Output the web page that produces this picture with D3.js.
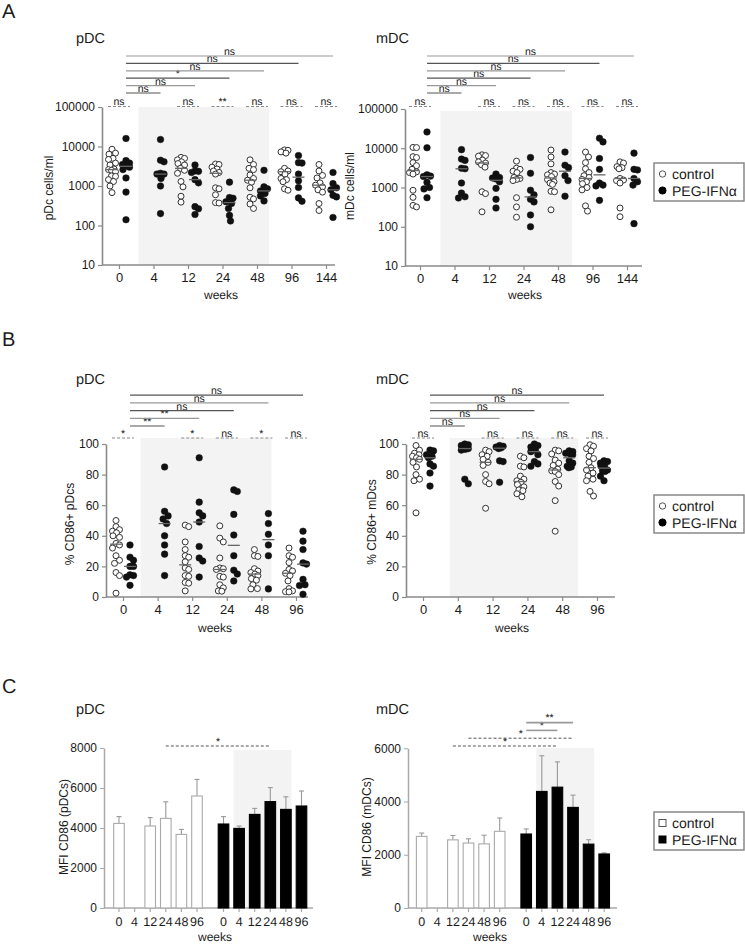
<!DOCTYPE html>
<html><head><meta charset="utf-8">
<script src="https://cdn.jsdelivr.net/npm/d3@7"></script>
<style>
body{margin:0;background:#fff}
svg{display:block}
text{font-family:"Liberation Sans",Arial,Helvetica,sans-serif;fill:#1a1a1a}
</style>
</head><body>
<svg id="c" width="745" height="944"></svg>
<script>
// ---------------- DATA ----------------
const weeksA = ["0","4","12","24","48","96","144"];
const weeksB = ["0","4","12","24","48","96"];
const weeksC = ["0","4","12","24","48","96"];

// Panel A – pDC cells/ml
const aPdcCtrl = [
  [8500,6800,6400,5000,4700,3800,3400,2700,2600,2500,2300,1800,1750,1450,1300,1000,680],
  [],
  [5300,5000,4600,4100,3700,3400,2800,2500,2100,1300,950,550,390],
  [3600,3500,3000,2700,2400,2200,2000,900,850,600,380,370],
  [4600,3500,2800,2600,1900,1550,1400,1250,900,520,470,350,270],
  [8200,8000,7300,6800,2800,2400,2300,2000,1550,1450,1280,850,780],
  [3500,2400,1850,1600,1200,1050,950,800,700,360,240]
];
const aPdcPeg = [
  [16000,4400,3800,3500,3300,3000,2600,1600,700,140],
  [15000,4500,4100,2100,2000,2000,1550,1000,200],
  [3400,2400,2350,2200,1450,1200,300,265,190],
  [1250,510,490,400,360,270,180,130],
  [2500,950,850,750,650,560,420],
  [5900,3900,3800,2000,1350,920,500,410],
  [2200,1150,900,800,580,530,160]
];
const aPdcGroupSig = ["ns",null,"ns","**","ns","ns","ns"];
const aPdcTrendSig = ["ns","ns","*","ns","ns","ns"];

// Panel A – mDC cells/ml
const aMdcCtrl = [
  [10500,10400,6100,5800,4300,3600,2900,2500,2400,2200,850,560,350,320],
  [],
  [6800,6500,6300,5000,4500,4200,3800,3300,780,700,240],
  [4700,3100,2900,2600,2400,1800,1700,1600,1500,550,320,175],
  [9000,6000,4000,2400,2200,2100,1900,1600,1400,1300,1200,800,780,270],
  [8000,6000,4300,3000,2400,2000,1800,1600,1400,1250,1000,870,340,250],
  [4500,4200,3400,3200,3000,1700,1550,1500,1300,300,180]
];
const aMdcPeg = [
  [26000,10300,2100,1950,1900,1350,1000,920,550],
  [9200,5300,4900,3100,3000,1300,720,580,540],
  [2200,1800,1750,1650,1400,950,500,300],
  [5800,2300,850,650,500,430,200,100],
  [8000,3700,3200,2000,1500,600],
  [18000,14500,5500,2900,1300,1150,1100,470],
  [7500,2900,2800,1700,1400,1150,120]
];
const aMdcGroupSig = ["ns",null,"ns","ns","ns","ns","ns"];
const aMdcTrendSig = ["ns","ns","ns","ns","ns","ns"];

// Panel B – % CD86+ pDCs
const bPdcCtrl = [
  [50,46,44,43,42,40,39,35,34,32,27,24,22,16,14,2.5],
  [],
  [47,46,36,31,27,26,23,19,18,14,13.5,9.5,9,4],
  [46.5,38.5,36,25.5,19,18.5,18,13.5,13,8,6,4,3.8],
  [31,27,26.5,18.5,17,16,15,14,12,11,8,5.5,5.3],
  [32,27,26,22.5,18,17,15.5,14,10.5,5.5,4,3.5,3.3]
];
const bPdcPeg = [
  [34,26,24,20,20,14.5,14,13,7.6],
  [85,56,53,51,48,40,34,28,14],
  [91,62,55,53,49,33,25.5,23.5,13],
  [70,69,54,40.5,27,17.5,15,10.5],
  [54.5,48,41,34,27,5.3],
  [43,36.5,31,22.3,21.5,11.5,8,7.5,1.8]
];
const bPdcGroupSig = ["*",null,"*","ns","*","ns"];
const bPdcTrendSig = ["**","**","ns","ns","ns"];

// Panel B – % CD86+ mDCs
const bMdcCtrl = [
  [99,96,94,93,92,91,90,88,85,80,77,76,55],
  [],
  [96,95,93,92,90,88,86,80,75.5,74,58],
  [92,91,85.5,85,79,77,76,75,73.5,72,70,69.5,67.5,65.5],
  [96,95.5,93.5,89.5,87.5,86,83.5,82.5,82,80,75.5,72.5,63,43],
  [99.5,98.5,97,95.5,92,90.5,88,84.5,83,81,79,77,76,69,66]
];
const bMdcPeg = [
  [96,95.5,93,92,91,87,85.5,81,72.5],
  [100,99.5,99,98,97,97,96.5,96,77,74],
  [99,98.5,98,97.5,97,89,88.5,75],
  [100,99,98,96,95,93,88.5,87,85.5],
  [95.5,95,94,93.5,93,89,87.5,85.5,85,84.5],
  [89,88.5,87.5,86,85.5,83,82.5,82,79,76]
];
const bMdcGroupSig = ["ns",null,"ns","ns","ns","ns"];
const bMdcTrendSig = ["ns","ns","ns","ns","ns"];

// Panel C – MFI CD86 (mean, SEM)
const cPdcCtrlMean = [4230,null,4100,4480,3680,5600];
const cPdcCtrlSem  = [340,null,420,830,250,830];
const cPdcPegMean  = [4200,3980,4680,5320,4930,5100];
const cPdcPegSem   = [370,120,300,700,630,750];
const cPdcSig = [ {from:["c",3], to:["p",3], label:"*", dashed:true} ];

const cMdcCtrlMean = [2690,null,2560,2440,2410,2880];
const cMdcCtrlSem  = [125,null,165,160,325,500];
const cMdcPegMean  = [2780,4380,4540,3780,2400,2030];
const cMdcPegSem   = [190,1340,950,460,165,40];
const cMdcSig = [
  {from:["c",2], to:["p",2], label:"*", dashed:true},
  {from:["c",3], to:["p",3], label:"*", dashed:true},
  {from:["p",0], to:["p",2], label:"*", dashed:false},
  {from:["p",0], to:["p",3], label:"**", dashed:false}
];

const legendLabels = ["control","PEG-IFNα"];

// ---------------- DRAW ----------------
const svg = d3.select("#c");
const AXC = "#8a8a8a";
const FONT = '"Liberation Sans",Arial,sans-serif';

function txt(g, x, y, s, size, anchor) {
  return g.append("text").attr("x", x).attr("y", y).text(s)
    .attr("font-size", size).attr("text-anchor", anchor || "start")
    .style("text-rendering", "geometricPrecision");
}

// compact deterministic beeswarm, limited horizontal spread
function swarm(vals, y, cx, r, maxDx) {
  const pts = vals.map(v => ({v, y: y(v)})).sort((a,b) => a.y - b.y);
  const placed = [];
  const D = 2 * r * 0.85;
  const cands = [];
  for (let k = 0; k <= maxDx * 2; k++) {
    const dx = (k % 2 === 1 ? 1 : -1) * Math.ceil(k / 2) * 0.5;
    cands.push(dx);
  }
  for (const p of pts) {
    let best = null, bestScore = -1;
    for (const dx of cands) {
      const px = cx + dx;
      let minD = Infinity;
      for (const q of placed) {
        const ddx = q.x - px, ddy = q.y - p.y;
        minD = Math.min(minD, Math.sqrt(ddx*ddx + ddy*ddy));
      }
      if (minD >= D) { best = px; break; }
      if (minD > bestScore) { bestScore = minD; best = px; }
    }
    p.x = best;
    placed.push(p);
  }
  return placed;
}

function scatterPanel(o) {
  const g = svg.append("g");
  const x = d3.scalePoint().domain(o.cats).range(o.xRange);
  const y = o.log ? d3.scaleLog().domain(o.yDomain).range(o.yRange)
                  : d3.scaleLinear().domain(o.yDomain).range(o.yRange);
  const y0 = o.yRange[0];
  const sx0 = x(o.cats[1]) + o.shade[0], sx1 = x(o.cats[4]) + o.shade[1];
  g.append("rect").attr("x", sx0).attr("y", o.shade[2])
    .attr("width", sx1 - sx0).attr("height", y0 - o.shade[2]).attr("fill", "#f3f3f3");
  const ya = d3.axisLeft(y).tickValues(o.yTicks).tickFormat(o.fmt).tickSize(4).tickPadding(3).tickSizeOuter(0);
  const yg = g.append("g").attr("transform", `translate(${o.axisX},0)`).call(ya);
  yg.select(".domain").attr("stroke", AXC).attr("stroke-width", 1.6);
  yg.selectAll(".tick line").attr("stroke", AXC).attr("stroke-width", 1.2);
  yg.selectAll(".tick text").attr("font-size", 12).attr("font-family", FONT).attr("fill", "#1a1a1a");
  g.append("line").attr("x1", o.axisX).attr("x2", o.xEnd).attr("y1", y0).attr("y2", y0)
    .attr("stroke", AXC).attr("stroke-width", 1.6);
  const xa = d3.axisBottom(x).tickSize(4).tickPadding(4);
  const xg = g.append("g").attr("transform", `translate(0,${y0})`).call(xa);
  xg.select(".domain").remove();
  xg.selectAll(".tick line").attr("stroke", AXC).attr("stroke-width", 1.2);
  xg.selectAll(".tick text").attr("font-size", 13).attr("font-family", FONT).attr("fill", "#1a1a1a");
  const r = 3.3;
  o.cats.forEach((c, i) => {
    [[o.ctrl[i], -o.off, false], [o.peg[i], o.off, true]].forEach(([vals, off, filled]) => {
      if (!vals || !vals.length) return;
      const cx = x(c) + off;
      const pts = swarm(vals, y, cx, r, 7);
      g.selectAll(null).data(pts).enter().append("circle")
        .attr("cx", d => d.x).attr("cy", d => d.y).attr("r", filled ? r : r - 0.3)
        .attr("fill", filled ? "#111" : "#fff").attr("stroke", filled ? "#111" : "#333")
        .attr("stroke-width", filled ? 0.5 : 1);
      const m = d3.median(vals);
      g.append("line").attr("x1", cx - 6).attr("x2", cx + 6).attr("y1", y(m)).attr("y2", y(m))
        .attr("stroke", "#666").attr("stroke-width", 1.3);
    });
  });
  o.groupSig.forEach((s, i) => {
    if (!s) return;
    const cx = x(o.cats[i]);
    g.append("line").attr("x1", cx - 11).attr("x2", cx + 11).attr("y1", o.gsY).attr("y2", o.gsY)
      .attr("stroke", "#888").attr("stroke-width", 1.2).attr("stroke-dasharray", "3,2");
    txt(g, cx, o.gsY - 1.5, s, 10.5, "middle");
  });
  o.trendSig.forEach((s, k) => {
    const x1 = x(o.cats[0]) + o.off, x2 = x(o.cats[k+1]) + o.off;
    const ly = o.trendY - k * o.trendStep;
    g.append("line").attr("x1", x1).attr("x2", x2).attr("y1", ly).attr("y2", ly)
      .attr("stroke", k % 2 === 0 ? "#555" : "#999").attr("stroke-width", 1.2);
    txt(g, (x1 + x2) / 2, ly - 1, s, 10.5, "middle");
  });
  txt(g, o.titleX, o.titleY, o.title, 14.5, "start");
  txt(g, o.weeksX, o.weeksY, "weeks", 12, "middle");
  g.append("text").attr("transform", `translate(${o.ylabX},${o.ylabY}) rotate(-90)`)
    .attr("text-anchor", "middle").attr("font-size", 12).text(o.ylab);
}

function barPanel(o) {
  const g = svg.append("g");
  const slot = d3.scaleLinear().domain([0, 11.7]).range(o.xRange);
  const pos = (grp, i) => slot(i + (grp === "p" ? 6.7 : 0));
  const y = d3.scaleLinear().domain(o.yDomain).range([908, o.yTop]);
  const y0 = 908;
  const sx0 = pos("p", 1) - 5.5, sx1 = pos("p", 4) + 5.5;
  g.append("rect").attr("x", sx0).attr("y", o.shadeTop).attr("width", sx1 - sx0)
    .attr("height", y0 - o.shadeTop).attr("fill", "#f3f3f3");
  const ya = d3.axisLeft(y).tickValues(o.yTicks).tickFormat(d3.format("d")).tickSize(4).tickPadding(3).tickSizeOuter(0);
  const yg = g.append("g").attr("transform", `translate(${o.axisX},0)`).call(ya);
  yg.select(".domain").attr("stroke", "#aaa").attr("stroke-width", 1.5);
  yg.selectAll(".tick line").attr("stroke", "#aaa");
  yg.selectAll(".tick text").attr("font-size", 12).attr("font-family", FONT).attr("fill", "#1a1a1a");
  g.append("line").attr("x1", o.axisX).attr("x2", o.xEnd).attr("y1", y0).attr("y2", y0)
    .attr("stroke", "#aaa").attr("stroke-width", 1.5);
  const bw = 10.6;
  [["c", o.ctrlMean, o.ctrlSem], ["p", o.pegMean, o.pegSem]].forEach(([grp, means, sems]) => {
    weeksC.forEach((w, i) => {
      const cx = pos(grp, i);
      g.append("line").attr("x1", cx).attr("x2", cx).attr("y1", y0).attr("y2", y0 + 4)
        .attr("stroke", "#aaa").attr("stroke-width", 1.2);
      txt(g, cx, 926, w, 12.5, "middle");
      const m = means[i];
      if (m == null) return;
      const top = y(m + sems[i]);
      g.append("line").attr("x1", cx).attr("x2", cx).attr("y1", y(m)).attr("y2", top)
        .attr("stroke", "#999").attr("stroke-width", 1.1);
      g.append("line").attr("x1", cx - 2.5).attr("x2", cx + 2.5).attr("y1", top).attr("y2", top)
        .attr("stroke", "#999").attr("stroke-width", 1.1);
      g.append("rect").attr("x", cx - bw/2).attr("y", y(m)).attr("width", bw).attr("height", y0 - y(m))
        .attr("fill", grp === "p" ? "#000" : "#fff").attr("stroke", grp === "p" ? "#000" : "#aaa")
        .attr("stroke-width", 1.1);
    });
  });
  o.sig.forEach((s, k) => {
    const x1 = pos(s.from[0], s.from[1]), x2 = pos(s.to[0], s.to[1]);
    const ly = o.sigY - k * 7.8;
    const l = g.append("line").attr("x1", x1).attr("x2", x2).attr("y1", ly).attr("y2", ly)
      .attr("stroke", s.dashed ? "#555" : "#999").attr("stroke-width", s.dashed ? 1 : 1.6);
    if (s.dashed) l.attr("stroke-dasharray", "3,2");
    txt(g, (x1 + x2) / 2, ly - 1.5, s.label, 10.5, "middle");
  });
  txt(g, o.titleX, o.titleY, o.title, 14.5, "start");
  txt(g, o.weeksX, 941, "weeks", 12, "middle");
  g.append("text").attr("transform", `translate(${o.ylabX},${o.ylabY}) rotate(-90)`)
    .attr("text-anchor", "middle").attr("font-size", 12).text(o.ylab);
}

function legend(x, y, square) {
  const g = svg.append("g");
  g.append("rect").attr("x", x).attr("y", y).attr("width", 90).attr("height", 38)
    .attr("fill", "#fff").attr("stroke", "#888").attr("stroke-width", 1.5);
  legendLabels.forEach((l, i) => {
    const cy = y + 11 + i * 16.5;
    if (square) {
      g.append("rect").attr("x", x + 5).attr("y", cy - 3.5).attr("width", 7).attr("height", 7)
        .attr("fill", i ? "#000" : "#fff").attr("stroke", i ? "#000" : "#555").attr("stroke-width", 1);
    } else {
      g.append("circle").attr("cx", x + 8.5).attr("cy", cy).attr("r", i ? 3.6 : 3.2)
        .attr("fill", i ? "#000" : "#fff").attr("stroke", i ? "#000" : "#555").attr("stroke-width", 1);
    }
    txt(g, x + 18, cy + 5, l, 14, "start");
  });
}

txt(svg, 2, 18, "A", 20);
txt(svg, 2, 346, "B", 20);
txt(svg, 2, 693, "C", 20);

const logFmt = d3.format("d");
scatterPanel({cats: weeksA, ctrl: aPdcCtrl, peg: aPdcPeg, log: true, yDomain: [10, 100000],
  yRange: [265, 107], yTicks: [10,100,1000,10000,100000], fmt: logFmt,
  xRange: [119, 326], off: 7, axisX: 102, xEnd: 335, shade: [-15, 12, 107],
  groupSig: aPdcGroupSig, gsY: 106.5, trendSig: aPdcTrendSig, trendY: 93, trendStep: 7.4,
  title: "pDC", titleX: 76, titleY: 43, weeksX: 221, weeksY: 299,
  ylab: "pDc cells/ml", ylabX: 53, ylabY: 188});

scatterPanel({cats: weeksA, ctrl: aMdcCtrl, peg: aMdcPeg, log: true, yDomain: [10, 100000],
  yRange: [266, 109], yTicks: [10,100,1000,10000,100000], fmt: logFmt,
  xRange: [420, 627], off: 7, axisX: 405, xEnd: 642, shade: [-14, 14, 111],
  groupSig: aMdcGroupSig, gsY: 106.5, trendSig: aMdcTrendSig, trendY: 93, trendStep: 7.4,
  title: "mDC", titleX: 376, titleY: 43, weeksX: 525, weeksY: 299,
  ylab: "mDc cells/ml", ylabX: 354, ylabY: 186});

scatterPanel({cats: weeksB, ctrl: bPdcCtrl, peg: bPdcPeg, log: false, yDomain: [0, 100],
  yRange: [597, 444], yTicks: [0,20,40,60,80,100], fmt: d3.format("d"),
  xRange: [123, 296], off: 7, axisX: 106, xEnd: 308, shade: [-17, 10, 438],
  groupSig: bPdcGroupSig, gsY: 438, trendSig: bPdcTrendSig, trendY: 426, trendStep: 7.7,
  title: "pDC", titleX: 76, titleY: 384, weeksX: 215, weeksY: 632,
  ylab: "% CD86+ pDcs", ylabX: 74, ylabY: 524});

scatterPanel({cats: weeksB, ctrl: bMdcCtrl, peg: bMdcPeg, log: false, yDomain: [0, 100],
  yRange: [597, 444], yTicks: [0,20,40,60,80,100], fmt: d3.format("d"),
  xRange: [423, 597], off: 7, axisX: 406, xEnd: 615, shade: [-8, 16, 438],
  groupSig: bMdcGroupSig, gsY: 438, trendSig: bMdcTrendSig, trendY: 426, trendStep: 7.7,
  title: "mDC", titleX: 376, titleY: 384, weeksX: 512, weeksY: 632,
  ylab: "% CD86+ mDcs", ylabX: 376, ylabY: 522});

barPanel({ctrlMean: cPdcCtrlMean, ctrlSem: cPdcCtrlSem, pegMean: cPdcPegMean, pegSem: cPdcPegSem,
  sig: cPdcSig, yDomain: [0, 8000], yTop: 748, yTicks: [0,2000,4000,6000,8000],
  xRange: [119, 301.5], axisX: 104, xEnd: 313, shadeTop: 750, sigY: 746,
  title: "pDC", titleX: 76, titleY: 714, weeksX: 215, ylab: "MFI CD86 (pDCs)", ylabX: 68, ylabY: 827});

barPanel({ctrlMean: cMdcCtrlMean, ctrlSem: cMdcCtrlSem, pegMean: cMdcPegMean, pegSem: cMdcPegSem,
  sig: cMdcSig, yDomain: [0, 6000], yTop: 748.3, yTicks: [0,2000,4000,6000],
  xRange: [421.7, 604.2], axisX: 408, xEnd: 617, shadeTop: 748, sigY: 746,
  title: "mDC", titleX: 376, titleY: 714, weeksX: 490, ylab: "MFI CD86 (mDCs)", ylabX: 371, ylabY: 827});

legend(654, 163, false);
legend(654, 495, false);
legend(654, 812, true);
</script>
</body></html>
